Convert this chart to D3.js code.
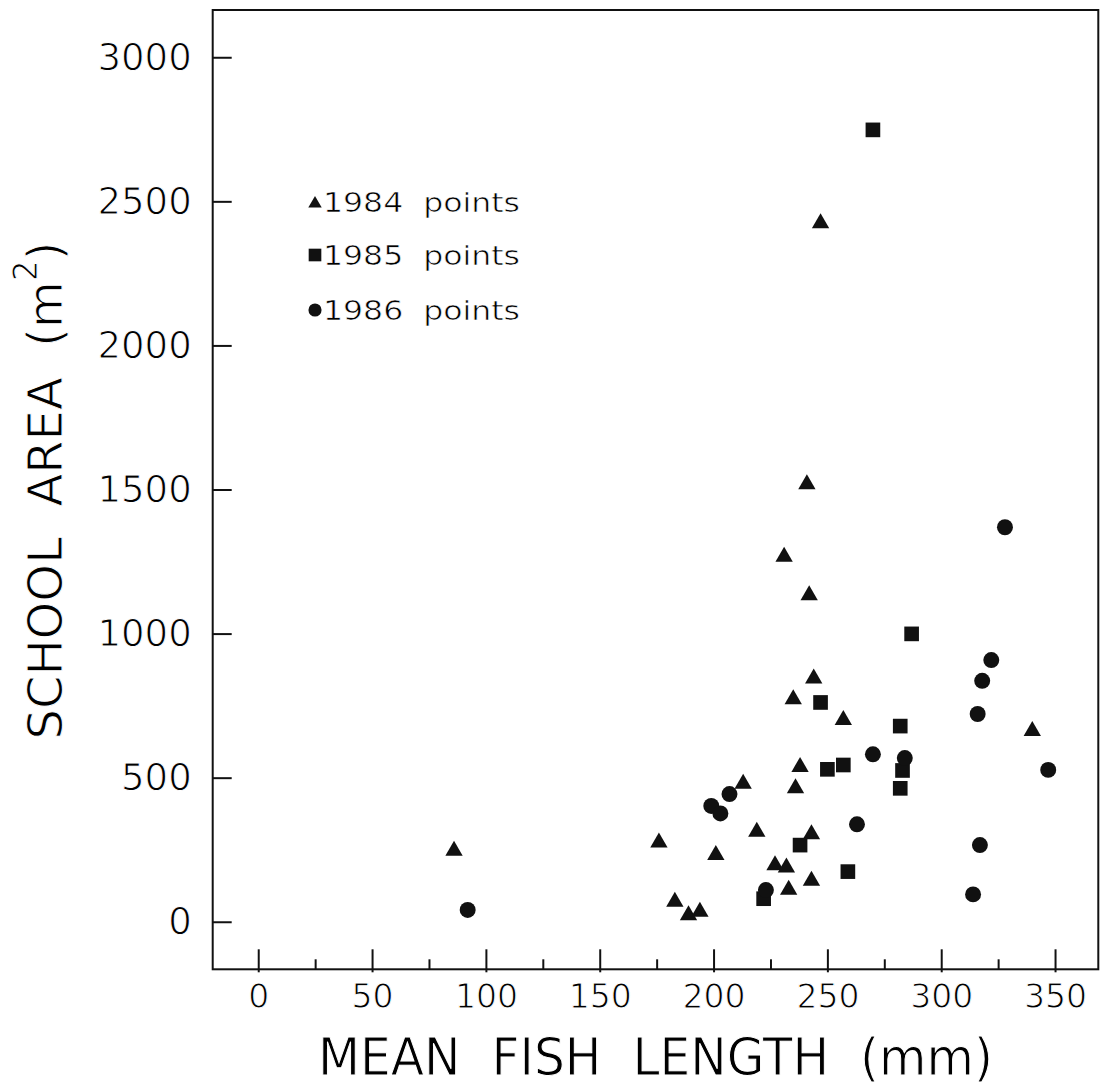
<!DOCTYPE html>
<html>
<head>
<meta charset="utf-8">
<script src="https://cdn.jsdelivr.net/npm/d3@7"></script>
<style>
  body { margin: 0; background: #fff; }
  svg text {
    font-family: "DejaVu Sans", "Liberation Sans", sans-serif;
    fill: #000; white-space: pre;
    /* a thin white outline painted over the glyphs gives a lighter pen stroke */
    stroke: #fff; stroke-width: 1px; paint-order: fill stroke;
  }
  svg text.small { stroke-width: 0.6px; }
</style>
</head>
<body>
<svg id="chart" width="1109" height="1086"></svg>
<script>
// Mean fish length (mm) and school area (m^2), one pair of arrays per survey year
const length1984 = [86, 176, 183, 189, 194, 201, 213, 219, 227, 232, 233, 243, 243, 236, 238, 244, 235, 257, 242, 231, 241, 247, 340];
const area1984   = [255, 284, 78, 31, 43, 240, 488, 321, 205, 197, 120, 151, 312, 472, 546, 853, 781, 709, 1142, 1275, 1527, 2433, 671];

const length1985 = [270, 287, 282, 247, 250, 257, 283, 282, 238, 259, 222];
const area1985   = [2748, 999, 679, 761, 529, 544, 525, 463, 266, 174, 80];

const length1986 = [92, 199, 203, 207, 223, 263, 270, 284, 316, 318, 322, 328, 317, 314, 347];
const area1986   = [41, 402, 376, 443, 110, 338, 581, 568, 721, 836, 908, 1369, 266, 95, 527];

const seriesLabels = ["1984  points", "1985  points", "1986  points"];
const xTickValues = [0, 50, 100, 150, 200, 250, 300, 350];
const xMinorTickValues = [25, 75, 125, 175, 225, 275, 325];
const yTickValues = [0, 500, 1000, 1500, 2000, 2500, 3000];
const xTitle = "MEAN  FISH  LENGTH  (mm)";

const svg = d3.select("#chart");
const ink = "#111";

const x = d3.scaleLinear().domain([-20, 369]).range([212.7, 1098.3]);
const y = d3.scaleLinear().domain([-165, 3164]).range([969.3, 10]);

// plot frame
svg.append("rect")
  .attr("x", x.range()[0]).attr("y", y.range()[1])
  .attr("width", x.range()[1] - x.range()[0])
  .attr("height", y.range()[0] - y.range()[1])
  .attr("fill", "none").attr("stroke", ink).attr("stroke-width", 2);

// y axis: inward ticks, labels on the left
const gy = svg.append("g")
  .attr("transform", `translate(${x.range()[0]},0)`)
  .call(d3.axisLeft(y).tickValues(yTickValues).tickFormat(d3.format("d"))
    .tickSize(-19).tickPadding(21).tickSizeOuter(0));
gy.select(".domain").remove();
gy.selectAll(".tick line").attr("stroke", ink).attr("stroke-width", 2);
gy.selectAll(".tick text").attr("font-size", 37).attr("fill", "#000");
gy.attr("font-family", null).attr("font-size", null);

// x axis: long inward major ticks, short minor ticks
const gx = svg.append("g")
  .attr("transform", `translate(0,${y.range()[0]})`)
  .call(d3.axisBottom(x).tickValues(xTickValues).tickFormat(d3.format("d"))
    .tickSize(-20).tickPadding(15).tickSizeOuter(0));
gx.select(".domain").remove();
gx.selectAll(".tick line").attr("y1", 3).attr("stroke", ink).attr("stroke-width", 2);
gx.selectAll(".tick text").attr("font-size", 33).attr("fill", "#000");
gx.attr("font-family", null).attr("font-size", null);

const gxMinor = svg.append("g")
  .attr("transform", `translate(0,${y.range()[0]})`)
  .call(d3.axisBottom(x).tickValues(xMinorTickValues).tickSize(-10).tickFormat(() => "").tickSizeOuter(0));
gxMinor.select(".domain").remove();
gxMinor.selectAll(".tick line").attr("stroke", ink).attr("stroke-width", 2);

// markers
const shapes = [
  { type: d3.symbolTriangle, size: 130, legendSize: 78 },
  { type: d3.symbolSquare, size: 215, legendSize: 160 },
  { type: d3.symbolCircle, size: 200, legendSize: 135 }
];

// shift that puts a triangle's bounding-box centre (not its centroid) on the point
function markerOffset(shape, size) {
  if (shape.type !== d3.symbolTriangle) return 0;
  return Math.sqrt(size / (Math.sqrt(3) * 3)) / 2;
}

const series = [
  { lengths: length1984, areas: area1984, shape: shapes[0] },
  { lengths: length1985, areas: area1985, shape: shapes[1] },
  { lengths: length1986, areas: area1986, shape: shapes[2] }
];

series.forEach(s => {
  const pts = s.lengths.map((v, i) => ({ len: v, area: s.areas[i] }));
  const dy = markerOffset(s.shape, s.shape.size);
  svg.append("g").selectAll("path").data(pts).join("path")
    .attr("d", d3.symbol().type(s.shape.type).size(s.shape.size))
    .attr("transform", d => `translate(${x(d.len)},${y(d.area) + dy})`)
    .attr("fill", ink);
});

// legend
const legendRows = [201.7, 255, 310];
const legend = svg.append("g");
seriesLabels.forEach((label, i) => {
  const sh = shapes[i];
  legend.append("path")
    .attr("d", d3.symbol().type(sh.type).size(sh.legendSize))
    .attr("transform", `translate(315,${legendRows[i] + markerOffset(sh, sh.legendSize)})`)
    .attr("fill", ink);
  legend.append("text")
    .attr("class", "small")
    .attr("x", 323).attr("y", legendRows[i] + 9.8)
    .attr("font-size", 27)
    .attr("textLength", 197).attr("lengthAdjust", "spacingAndGlyphs")
    .text(label);
});

// axis titles
svg.append("text")
  .attr("x", 655.5).attr("y", 1075)
  .attr("text-anchor", "middle")
  .attr("font-size", 51)
  .attr("textLength", 675).attr("lengthAdjust", "spacingAndGlyphs")
  .text(xTitle);

const yt = svg.append("text")
  .attr("transform", "translate(62,490.5) rotate(-90)")
  .attr("text-anchor", "middle")
  .attr("font-size", 48);
yt.append("tspan").text("SCHOOL  AREA  (m");
yt.append("tspan").attr("font-size", 33).attr("dy", -25).text("2");
yt.append("tspan").attr("dy", 25).text(")");
</script>
</body>
</html>
